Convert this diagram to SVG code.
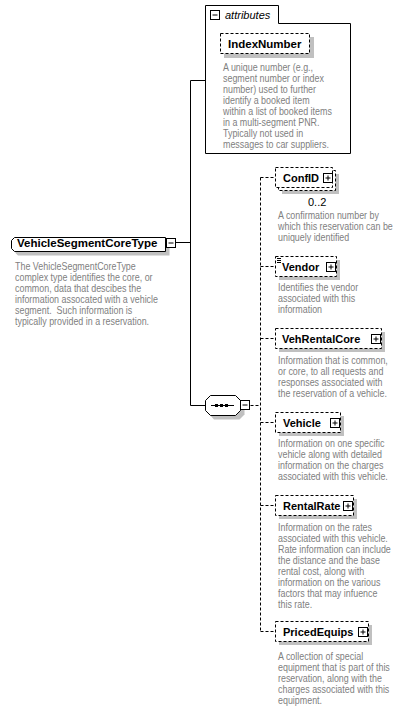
<svg xmlns="http://www.w3.org/2000/svg" width="409" height="708" viewBox="0 0 409 708">
<style>
.ln{fill:none;stroke:#000;stroke-width:1}
.dl{fill:none;stroke:#000;stroke-width:1;stroke-dasharray:3,2}
.box{fill:#fff;stroke:#000;stroke-width:1}
.dbox{fill:#fff;stroke:#000;stroke-width:1;stroke-dasharray:3,2}
.sh{fill:#c0c0c0}
.lbl{font-family:"Liberation Sans",Arial,sans-serif;font-size:11px;font-weight:bold;fill:#000}
.big{font-size:11.5px}
.desc{font-family:"Liberation Sans",Arial,sans-serif;font-size:11px;fill:#808080;white-space:pre}
.it{font-family:"Liberation Sans",Arial,sans-serif;font-size:11px;font-style:italic;fill:#000}
.occ{font-family:"Liberation Sans",Arial,sans-serif;font-size:11px;fill:#000}
</style>
<defs>
<g id="plus"><rect class="box" x="0.5" y="0.5" width="9" height="9"/><path class="ln" d="M2.5,5 H7.5 M5,2.5 V7.5"/></g>
<g id="minus"><rect class="box" x="0.5" y="0.5" width="9" height="9"/><path class="ln" d="M2.5,5 H7.5"/></g>
</defs>

<g id="connectors">
<path class="ln" d="M190.5,80.5 V405.5 M190.5,80.5 H205.5 M175.5,242.5 H190.5 M190.5,405.5 H205.5"/>
<path class="dl" d="M250.5,405.5 H260.5 M260.5,177.5 V631.5 M260.5,177.5 H275.5 M260.5,266.5 H275.5 M260.5,338.5 H275.5 M260.5,422.5 H275.5 M260.5,505.5 H275.5 M260.5,631.5 H275.5"/>
</g>

<g id="root">
<path class="sh" d="M18,241 H169.5 V255.5 H18 L15.5,253 V244 Z"/>
<path class="box" d="M14.5,237.5 H165.5 V251.5 H14.5 L11.5,248.5 V240.5 Z"/>
<text class="lbl big" x="17" y="247">VehicleSegmentCoreType</text>
<use href="#minus" x="166" y="238"/>
<g transform="translate(15,0) scale(0.81,1)"><text class="desc"><tspan x="0" y="270">The VehicleSegmentCoreType</tspan><tspan x="0" y="281">complex type identifies the core, or</tspan><tspan x="0" y="292">common, data that descibes the</tspan><tspan x="0" y="303">information assocated with a vehicle</tspan><tspan x="0" y="314">segment.  Such information is</tspan><tspan x="0" y="325">typically provided in a reservation.</tspan></text></g>
</g>

<g id="attributes">
<path class="box" d="M205.5,5.5 H278.5 V23.5 H350.5 V153.5 H205.5 Z"/>
<use href="#minus" x="210" y="10"/>
<text class="it" x="225" y="19">attributes</text>
</g>

<g id="IndexNumber">
<rect class="sh" x="224" y="37" width="90" height="21"/>
<rect class="dbox" x="220.5" y="33.5" width="89" height="20"/>
<text class="lbl big" x="228" y="48">IndexNumber</text>
<g transform="translate(223,0) scale(0.81,1)"><text class="desc"><tspan x="0" y="71">A unique number (e.g.,</tspan><tspan x="0" y="82">segment number or index</tspan><tspan x="0" y="93">number) used to further</tspan><tspan x="0" y="104">identify a booked item</tspan><tspan x="0" y="115">within a list of booked items</tspan><tspan x="0" y="126">in a multi-segment PNR.</tspan><tspan x="0" y="137">Typically not used in</tspan><tspan x="0" y="148">messages to car suppliers.</tspan></text></g>
</g>

<g id="sequence">
<path class="sh" d="M214,399 H239.5 L244.5,404 V414.5 L239.5,419.5 H214 L209.5,414.5 V404 Z"/>
<path class="box" d="M210.5,395.5 H235.5 L240.5,400.5 V410.5 L235.5,415.5 H210.5 L205.5,410.5 V400.5 Z"/>
<path class="ln" d="M211,405.5 H234"/>
<rect x="215" y="404" width="3" height="3" fill="#000"/>
<rect x="220" y="404" width="3" height="3" fill="#000"/>
<rect x="225" y="404" width="3" height="3" fill="#000"/>
<use href="#minus" x="240" y="400"/>
</g>

<g id="ConfID">
<rect class="sh" x="282" y="174" width="57" height="20"/>
<rect class="dbox" x="278.5" y="170.5" width="57" height="20"/>
<rect class="dbox" x="275.5" y="167.5" width="57" height="20"/>
<text class="lbl" x="283" y="182">ConfID</text>
<use href="#plus" x="323" y="173"/>
<text class="occ" x="308" y="206">0..2</text>
<g transform="translate(278,0) scale(0.81,1)"><text class="desc"><tspan x="0" y="219">A confirmation number by</tspan><tspan x="0" y="230">which this reservation can be</tspan><tspan x="0" y="241">uniquely identified</tspan></text></g>
</g>

<g id="Vendor">
<rect class="sh" x="279" y="260" width="61" height="20"/>
<rect class="dbox" x="275.5" y="256.5" width="61" height="20"/>
<path class="ln" d="M277,258.5 H281 M277,260.5 H281 M277,262.5 H281"/>
<text class="lbl" x="282" y="271">Vendor</text>
<use href="#plus" x="326" y="262"/>
<g transform="translate(278,0) scale(0.81,1)"><text class="desc"><tspan x="0" y="291">Identifies the vendor</tspan><tspan x="0" y="302">associated with this</tspan><tspan x="0" y="313">information</tspan></text></g>
</g>

<g id="VehRentalCore">
<rect class="sh" x="279" y="332" width="106" height="20"/>
<rect class="dbox" x="275.5" y="328.5" width="106" height="20"/>
<text class="lbl" x="282" y="343">VehRentalCore</text>
<use href="#plus" x="371" y="334"/>
<g transform="translate(278,0) scale(0.81,1)"><text class="desc"><tspan x="0" y="364">Information that is common,</tspan><tspan x="0" y="375">or core, to all requests and</tspan><tspan x="0" y="386">responses associated with</tspan><tspan x="0" y="397">the reservation of a vehicle.</tspan></text></g>
</g>

<g id="Vehicle">
<rect class="sh" x="279" y="416" width="65" height="20"/>
<rect class="dbox" x="275.5" y="412.5" width="65" height="20"/>
<text class="lbl" x="283" y="427">Vehicle</text>
<use href="#plus" x="330" y="418"/>
<g transform="translate(278,0) scale(0.81,1)"><text class="desc"><tspan x="0" y="447">Information on one specific</tspan><tspan x="0" y="458">vehicle along with detailed</tspan><tspan x="0" y="469">information on the charges</tspan><tspan x="0" y="480">associated with this vehicle.</tspan></text></g>
</g>

<g id="RentalRate">
<rect class="sh" x="279" y="499" width="78" height="20"/>
<rect class="dbox" x="275.5" y="495.5" width="78" height="20"/>
<text class="lbl" x="283" y="510">RentalRate</text>
<use href="#plus" x="343" y="501"/>
<g transform="translate(278,0) scale(0.81,1)"><text class="desc"><tspan x="0" y="531">Information on the rates</tspan><tspan x="0" y="542">associated with this vehicle.</tspan><tspan x="0" y="553">Rate information can include</tspan><tspan x="0" y="564">the distance and the base</tspan><tspan x="0" y="575">rental cost, along with</tspan><tspan x="0" y="586">information on the various</tspan><tspan x="0" y="597">factors that may infuence</tspan><tspan x="0" y="608">this rate.</tspan></text></g>
</g>

<g id="PricedEquips">
<rect class="sh" x="279" y="625" width="93" height="20"/>
<rect class="dbox" x="275.5" y="621.5" width="93" height="20"/>
<text class="lbl" x="283" y="636">PricedEquips</text>
<use href="#plus" x="358" y="627"/>
<g transform="translate(278,0) scale(0.81,1)"><text class="desc"><tspan x="0" y="660">A collection of special</tspan><tspan x="0" y="671">equipment that is part of this</tspan><tspan x="0" y="682">reservation, along with the</tspan><tspan x="0" y="693">charges associated with this</tspan><tspan x="0" y="704">equipment.</tspan></text></g>
</g>
</svg>
